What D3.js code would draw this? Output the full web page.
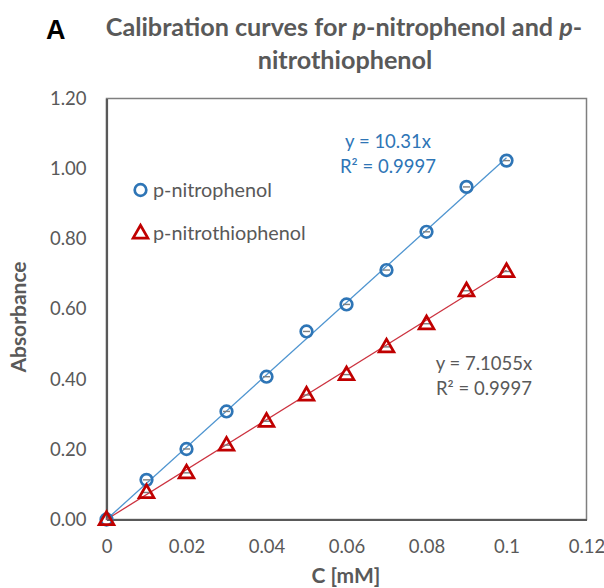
<!DOCTYPE html>
<html>
<head>
<meta charset="utf-8">
<script src="https://cdn.jsdelivr.net/npm/d3@7"></script>
<style>
  body { margin: 0; background: #fff; }
  svg { display: block; }
</style>
</head>
<body>
<script>
// Concentrations (mM) and measured absorbance for each compound
const conc = [0, 0.01, 0.02, 0.03, 0.04, 0.05, 0.06, 0.07, 0.08, 0.09, 0.1];
const nitrophenol = [0, 0.113, 0.201, 0.308, 0.407, 0.536, 0.613, 0.711, 0.82, 0.948, 1.023];
const nitrothiophenol = [0, 0.077, 0.133, 0.212, 0.28, 0.355, 0.413, 0.492, 0.558, 0.652, 0.707];
const seriesNames = ["p-nitrophenol", "p-nitrothiophenol"];
const slopes = [10.31, 7.1055];
const fitLabels = [["y = 10.31x", "R² = 0.9997"], ["y = 7.1055x", "R² = 0.9997"]];
const xTicks = [0, 0.02, 0.04, 0.06, 0.08, 0.1, 0.12];
const yTicks = [0, 0.2, 0.4, 0.6, 0.8, 1.0, 1.2];

const W = 604, H = 588;
const font = "Lato, 'Open Sans', sans-serif";
const grey = "#595959";
const blue = "#2E75B6";
const red = "#C00000";

const svg = d3.select("body").append("svg")
    .attr("width", W)
    .attr("height", H);

const x = d3.scaleLinear().domain([0, 0.12]).range([106.5, 586.5]);
const y = d3.scaleLinear().domain([0, 1.2]).range([519.5, 98.5]);

// plot frame
svg.append("rect")
    .attr("x", x(0)).attr("y", y(1.2))
    .attr("width", x(0.12) - x(0)).attr("height", y(0) - y(1.2))
    .attr("fill", "none").attr("stroke", "#7f7f7f").attr("stroke-width", 1.5);

// axes (no tick marks, just labels)
const xAxis = svg.append("g")
    .attr("transform", `translate(0,${y(0)})`)
    .call(d3.axisBottom(x).tickValues(xTicks).tickSize(0).tickPadding(20)
        .tickFormat(d => d === 0 ? "0" : d3.format("")(+d.toFixed(2))));
const yAxis = svg.append("g")
    .attr("transform", `translate(${x(0)},0)`)
    .call(d3.axisLeft(y).tickValues(yTicks).tickSize(0).tickPadding(20)
        .tickFormat(d3.format(".2f")));

[xAxis, yAxis].forEach(g => {
    g.select(".domain").attr("stroke", grey).attr("stroke-width", 2.2);
    g.selectAll("text")
        .attr("font-family", font)
        .attr("font-size", 18.5)
        .attr("fill", grey);
});
xAxis.selectAll("text").attr("dy", null).attr("y", 33);

// trend lines
const series = [nitrophenol, nitrothiophenol];
const lineColors = ["#4f95d0", "#cc3340"];
const line = d3.line().x(d => x(d[0])).y(d => y(d[1]));
slopes.forEach((k, i) => {
    svg.append("path")
        .datum([[0, 0], [0.1, k * 0.1]])
        .attr("d", line)
        .attr("fill", "none")
        .attr("stroke", lineColors[i])
        .attr("stroke-width", 1.3);
});

const tri = d3.symbol().type(d3.symbolTriangle).size(95);

function marker(g, i) {
    if (i === 0) {
        g.append("circle").attr("r", 5.8)
            .attr("fill", "none").attr("stroke", blue).attr("stroke-width", 2.7);
    } else {
        g.append("path").attr("d", tri).attr("transform", "translate(0,0.8)")
            .attr("fill", "none").attr("stroke", red).attr("stroke-width", 2.7)
            .attr("stroke-linejoin", "miter");
    }
}

// data points with small error bars
series.forEach((vals, i) => {
    const pts = svg.append("g").selectAll("g")
        .data(conc.map((c, j) => [c, vals[j]]))
        .join("g")
        .attr("transform", d => `translate(${x(d[0])},${y(d[1])})`);
    pts.filter((d, j) => j > 0).append("line")
        .attr("x1", -3.5).attr("x2", 3.5)
        .attr("stroke", "#7f7f7f").attr("stroke-width", 1.4);
    pts.each(function () { marker(d3.select(this), i); });
});

// legend
const legendY = [190, 233];
seriesNames.forEach((name, i) => {
    const g = svg.append("g").attr("transform", `translate(140.5,${legendY[i]})`);
    marker(g, i);
    g.append("text")
        .attr("x", 12.5).attr("y", 6.5)
        .attr("font-family", font).attr("font-size", 19.8)
        .attr("fill", grey)
        .text(name);
});

// fit equations
const fitPos = [[388, 148], [484, 370]];
const fitColors = [blue, grey];
fitLabels.forEach((lines, i) => {
    lines.forEach((t, j) => {
        svg.append("text")
            .attr("x", fitPos[i][0]).attr("y", fitPos[i][1] + j * 25)
            .attr("text-anchor", "middle")
            .attr("font-family", font).attr("font-size", 18.5)
            .attr("fill", fitColors[i])
            .text(t);
    });
});

// axis titles
svg.append("text")
    .attr("x", 346).attr("y", 583)
    .attr("text-anchor", "middle")
    .attr("font-family", font).attr("font-size", 21).attr("font-weight", "bold")
    .attr("fill", grey)
    .text("C [mM]");
svg.append("text")
    .attr("transform", "translate(26,317) rotate(-90)")
    .attr("text-anchor", "middle")
    .attr("font-family", font).attr("font-size", 21).attr("font-weight", "bold")
    .attr("fill", grey)
    .text("Absorbance");

// panel letter
svg.append("text")
    .attr("x", 46).attr("y", 39)
    .attr("font-family", "'Liberation Sans', Arial, sans-serif")
    .attr("font-size", 27).attr("font-weight", "bold")
    .attr("fill", "#000")
    .text("A");

// title, two lines, italic p
const title = svg.append("g")
    .attr("font-family", font).attr("font-weight", "bold")
    .attr("font-size", 25.2).attr("fill", grey)
    .attr("text-anchor", "middle");
const t1 = title.append("text").attr("x", 344).attr("y", 36);
[["Calibration curves for ", false], ["p", true], ["-nitrophenol and ", false], ["p", true], ["-", false]]
    .forEach(([s, it]) => t1.append("tspan").attr("font-style", it ? "italic" : null).text(s));
title.append("text").attr("x", 345).attr("y", 69).text("nitrothiophenol");
</script>
</body>
</html>
